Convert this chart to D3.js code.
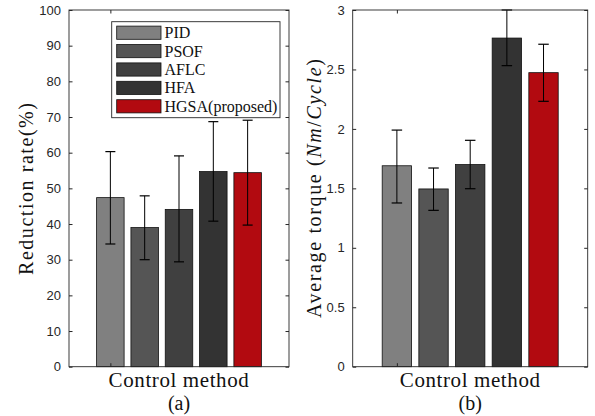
<!DOCTYPE html>
<html><head><meta charset="utf-8">
<script src="https://cdn.jsdelivr.net/npm/d3@7"></script>
<style>body{margin:0;background:#fff}svg{display:block}</style>
</head><body>
<svg id="c" width="595" height="416"></svg>
<script>
const methods = ["PID", "PSOF", "AFLC", "HFA", "HGSA(proposed)"];
const colors = ["#808080", "#555555", "#404040", "#333333", "#b20a10"];
// Panel (a): reduction rate (%)
const reduction = [47.4, 39.0, 44.1, 54.7, 54.4];
const reductionLow = [34.4, 30.0, 29.4, 40.8, 39.7];
const reductionHigh = [60.3, 47.9, 59.1, 68.7, 69.1];
const reductionTicks = [0, 10, 20, 30, 40, 50, 60, 70, 80, 90, 100];
// Panel (b): average torque (Nm/Cycle)
const torque = [1.69, 1.495, 1.70, 2.764, 2.473];
const torqueLow = [1.377, 1.315, 1.497, 2.532, 2.232];
const torqueHigh = [1.99, 1.671, 1.904, 3.0, 2.712];
const torqueTicks = [0, 0.5, 1, 1.5, 2, 2.5, 3];
const torqueTickLabels = ["0", "0.5", "1", "1.5", "2", "2.5", "3"];

const svg = d3.select("#c");
const axisColor = "#262626";
const serif = "'Liberation Serif', 'Times New Roman', serif";
const sans = "'Liberation Sans', Arial, Helvetica, sans-serif";

// grouped-bar offsets (MATLAB style)
const spacing = 0.156, barW = 0.125;
const xPos = methods.map((m, i) => 1 + (i - 2) * spacing);

function panel(opts) {
  const {x0, x1, y0, y1, vals, lo, hi, ymax, ticks, tickLabels} = opts;
  const g = svg.append("g");
  const x = d3.scaleLinear().domain([0.5, 1.5]).range([x0, x1]);
  const y = d3.scaleLinear().domain([0, ymax]).range([y1, y0]);

  // bars
  g.selectAll("rect.bar").data(vals).join("rect")
    .attr("x", (d, i) => x(xPos[i] - barW / 2))
    .attr("width", (d, i) => x(xPos[i] + barW / 2) - x(xPos[i] - barW / 2))
    .attr("y", d => y(d))
    .attr("height", d => y(0) - y(d))
    .attr("fill", (d, i) => colors[i])
    .attr("stroke", "#111").attr("stroke-width", 0.8);

  // error bars
  const cap = opts.cap;
  vals.forEach((d, i) => {
    const cx = x(xPos[i]);
    g.append("line").attr("x1", cx).attr("x2", cx).attr("y1", y(lo[i])).attr("y2", y(hi[i]))
      .attr("stroke", "#000").attr("stroke-width", 1);
    [lo[i], hi[i]].forEach(v => {
      g.append("line").attr("x1", cx - cap / 2).attr("x2", cx + cap / 2).attr("y1", y(v)).attr("y2", y(v))
        .attr("stroke", "#000").attr("stroke-width", 1.2);
    });
  });

  // box
  g.append("rect").attr("x", x0).attr("y", y0).attr("width", x1 - x0).attr("height", y1 - y0)
    .attr("fill", "none").attr("stroke", axisColor).attr("stroke-width", 0.9);

  // y axis (left, inward ticks) and mirrored ticks on right
  const yAxis = d3.axisLeft(y).tickValues(ticks).tickSize(-3.5).tickPadding(8)
    .tickFormat((d, i) => tickLabels ? tickLabels[i] : d);
  const ya = g.append("g").attr("transform", `translate(${x0},0)`).call(yAxis);
  ya.select(".domain").remove();
  ya.selectAll("line").attr("stroke", axisColor);
  ya.selectAll("text").attr("font-family", sans).attr("font-size", 13).attr("fill", axisColor);
  const yr = g.append("g").attr("transform", `translate(${x1},0)`)
    .call(d3.axisRight(y).tickValues(ticks).tickSize(-3.5).tickFormat(""));
  yr.select(".domain").remove();
  yr.selectAll("line").attr("stroke", axisColor);

  // x tick marks (unlabeled) at first category position, bottom and top
  const xb = g.append("g").attr("transform", `translate(0,${y1})`)
    .call(d3.axisBottom(x).tickValues([xPos[0]]).tickSize(-3.5).tickFormat(""));
  xb.select(".domain").remove(); xb.selectAll("line").attr("stroke", axisColor);
  const xt = g.append("g").attr("transform", `translate(0,${y0})`)
    .call(d3.axisTop(x).tickValues([xPos[0]]).tickSize(-3.5).tickFormat(""));
  xt.select(".domain").remove(); xt.selectAll("line").attr("stroke", axisColor);

  // x label and panel caption
  const cx = (x0 + x1) / 2;
  g.append("text").attr("x", cx).attr("y", 386.5).attr("text-anchor", "middle")
    .style("font-family", serif).style("font-size", "21px").style("letter-spacing", "0.6px")
    .attr("fill", "#111").text("Control method");
  g.append("text").attr("x", cx).attr("y", 410).attr("text-anchor", "middle")
    .style("font-family", serif).style("font-size", "20px").attr("fill", "#111").text(opts.caption);
  return g;
}

panel({x0: 69, x1: 289, y0: 10, y1: 366.7, vals: reduction, lo: reductionLow, hi: reductionHigh,
  ymax: 100, ticks: reductionTicks, cap: 10, caption: "(a)"});
panel({x0: 352.7, x1: 587.7, y0: 10, y1: 366.7, vals: torque, lo: torqueLow, hi: torqueHigh,
  ymax: 3, ticks: torqueTicks, tickLabels: torqueTickLabels, cap: 10.5, caption: "(b)"});

// y labels
svg.append("text").attr("transform", "translate(32.5,189) rotate(-90)").attr("text-anchor", "middle")
  .style("font-family", serif).style("font-size", "20px").attr("fill", "#111")
  .attr("textLength", 172).attr("lengthAdjust", "spacing").text("Reduction rate(%)");
const yl2 = svg.append("text").attr("transform", "translate(320.5,188.5) rotate(-90)").attr("text-anchor", "middle")
  .style("font-family", serif).style("font-size", "20px").attr("fill", "#111")
  .attr("textLength", 259).attr("lengthAdjust", "spacing");
yl2.append("tspan").text("Average torque (");
yl2.append("tspan").attr("font-style", "italic").text("Nm");
yl2.append("tspan").text("/");
yl2.append("tspan").attr("font-style", "italic").text("Cycle");
yl2.append("tspan").text(")");

// legend
const lg = svg.append("g");
lg.append("rect").attr("x", 111.7).attr("y", 21.7).attr("width", 168.3).attr("height", 96)
  .attr("fill", "#fff").attr("stroke", axisColor).attr("stroke-width", 0.9);
const rowY = d3.scalePoint().domain(methods).range([32.7, 106.3]);
lg.selectAll("rect.sw").data(methods).join("rect").attr("class", "sw")
  .attr("x", 116.7).attr("y", d => rowY(d) - 6.6).attr("width", 44.3).attr("height", 13.2)
  .attr("fill", (d, i) => colors[i]).attr("stroke", "#111").attr("stroke-width", 0.8);
lg.selectAll("text").data(methods).join("text")
  .attr("x", 164.5).attr("y", d => rowY(d) + 5.5)
  .style("font-family", serif).style("font-size", "16px").attr("fill", "#111").text(d => d);
</script>
</body></html>
